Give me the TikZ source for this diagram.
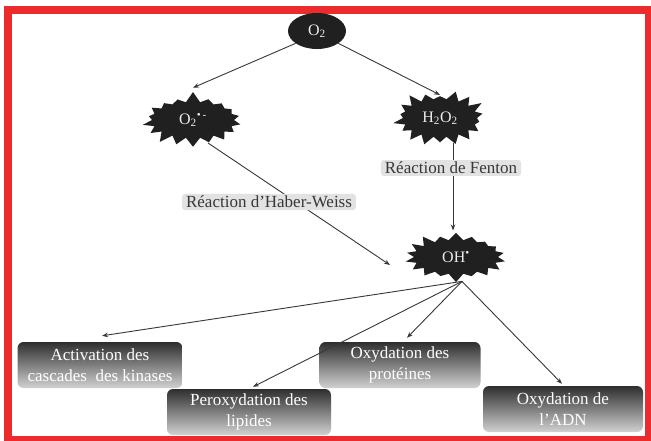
\documentclass[tikz,border=0pt]{standalone}
\usepackage{fontspec}
\setmainfont{Liberation Serif}
\usetikzlibrary{shapes.geometric,shapes.symbols,arrows.meta}
\definecolor{framered}{RGB}{236,44,44}
\definecolor{burstfill}{RGB}{32,32,32}
\definecolor{labelbg}{RGB}{226,226,226}
\definecolor{labeltext}{RGB}{55,55,55}

\begin{document}
\begin{tikzpicture}[x=1pt,y=-1pt,
  arr/.style={draw=black!78, line width=0.9pt, -{Stealth[length=6pt,width=4.5pt]}},
  burst/.style={starburst, fill=burstfill, draw=none, text=black!8,
    font=\fontsize{16}{18}\selectfont, starburst points=18,
    starburst point height=11pt, inner sep=1pt},
  reaction/.style={fill=labelbg, text=labeltext, rounded corners=3pt,
    font=\fontsize{17}{19}\selectfont, inner xsep=4pt, inner ysep=2pt},
  effect/.style={rectangle, rounded corners=6pt, top color=black!82,
    bottom color=black!18, text=white, align=center,
    font=\fontsize{17}{21}\selectfont, minimum height=46pt, inner sep=1pt}
]
\useasboundingbox (0,0) rectangle (651,440);
\fill[white] (0,0) rectangle (651,440);
\draw[framered, line width=8pt] (8,9.5) rectangle (649,440);

% species
\node[ellipse, fill=burstfill, text=black!8, minimum width=58pt, minimum height=36pt,
  inner sep=0pt, font=\fontsize{16}{18}\selectfont] (o2) at (317,31) {O\textsubscript{2}};
\node[burst, minimum width=104pt, minimum height=58pt, random starburst=7] (sup) at (193,120)
  {O\textsubscript{2}\textsuperscript{\textbullet\,-}};
\node[burst, minimum width=96pt, minimum height=60pt, random starburst=23] (hpo) at (440,118)
  {H\textsubscript{2}O\textsubscript{2}};
\node[burst, minimum width=106pt, minimum height=56pt, random starburst=41] (oh) at (456,257)
  {OH\textsuperscript{\textbullet}};

% consequences
\node[effect, minimum width=165pt] (act) at (100,365) {Activation des\\cascades\ \ des kinases};
\node[effect, minimum width=164pt] (per) at (249,412) {Peroxydation des\\lipides};
\node[effect, minimum width=161pt] (prot) at (400,365) {Oxydation des\\protéines};
\node[effect, minimum width=160pt] (adn) at (563,409) {Oxydation de\\l'ADN};

% reactions
\draw[arr] (o2.210) -- ([yshift=4pt]sup.north);
\draw[arr] (o2.330) -- ([yshift=1pt]hpo.north);
\draw[arr] ([xshift=15pt,yshift=-23pt]sup.center) -- ([xshift=-66pt,yshift=-8pt]oh.center);
\draw[arr] ([xshift=13pt]hpo.south) -- ([xshift=13pt,yshift=2pt]hpo.south |- oh.north);

\coordinate (apex) at ([xshift=6pt,yshift=1pt]oh.south);
\draw[arr] (apex) -- ([xshift=2pt,yshift=6pt]act.north);
\draw[arr] (apex) -- ([xshift=4pt,yshift=2pt]per.north);
\draw[arr] (apex) -- ([xshift=7pt,yshift=4pt]prot.north);
\draw[arr] (apex) -- ([xshift=-1pt,yshift=2pt]adn.north);

\node[reaction] (fenton) at (451,168) {Réaction de Fenton};
\node[reaction] (haber) at (269,202) {Réaction d'Haber-Weiss};
\end{tikzpicture}
\end{document}
